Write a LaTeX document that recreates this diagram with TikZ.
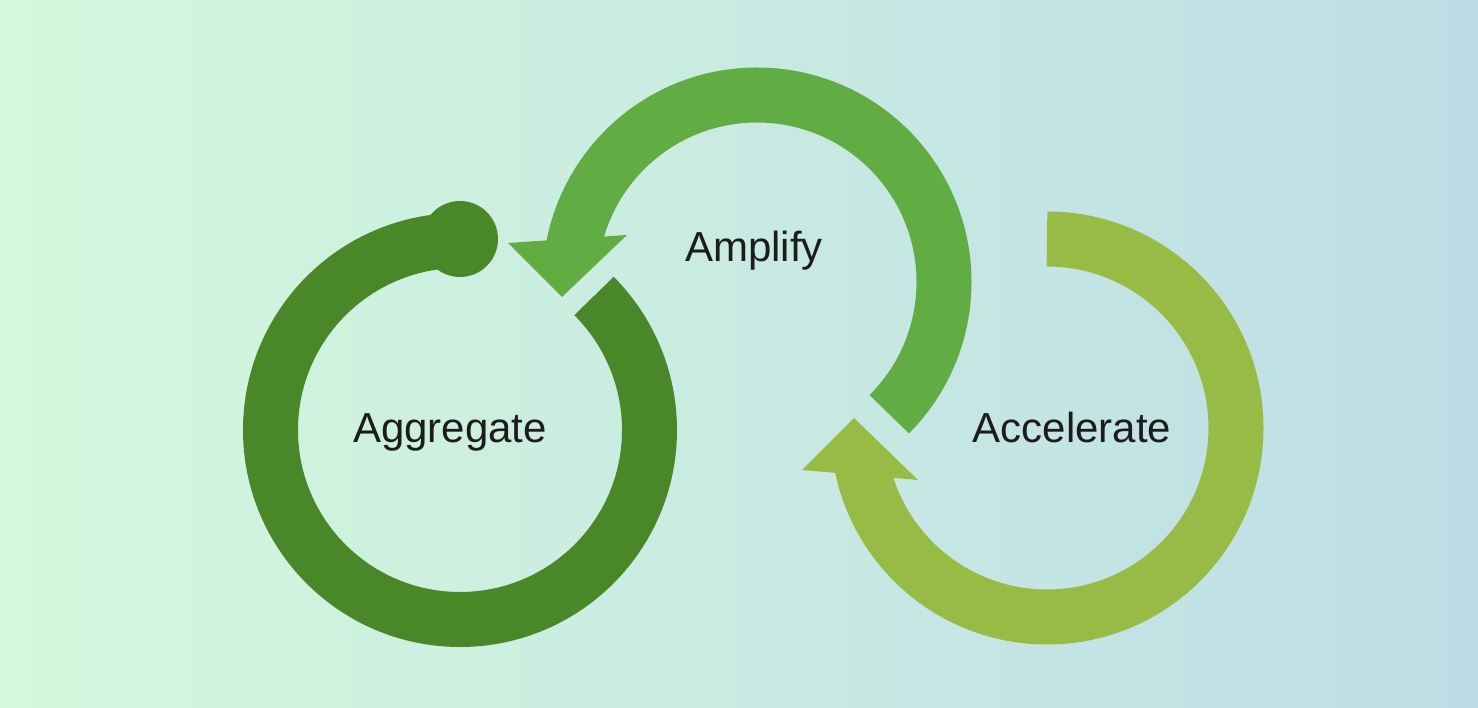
\documentclass[tikz,border=0pt]{standalone}
\usepackage{fontspec}
\setmainfont{Liberation Sans}
\usetikzlibrary{positioning}

\definecolor{bgleft}{HTML}{D4F8DD}
\definecolor{bgright}{HTML}{BDDDE6}
\definecolor{aggcol}{HTML}{4A8729}
\definecolor{ampcol}{HTML}{62AC44}
\definecolor{acccol}{HTML}{97BB45}
\definecolor{txtcol}{HTML}{1C1C1C}

\begin{document}
\begin{tikzpicture}[
    x=1pt, y=1pt,
    ring/.style={line width=55pt, line cap=butt},
    label/.style={font=\fontsize{42}{50}\selectfont, text=txtcol, anchor=base, inner sep=0pt}
]

    % Background
    \useasboundingbox (0,0) rectangle (1478,708);
    \shade[left color=bgleft, right color=bgright] (0,0) rectangle (1478,708);

    % Centres
    \coordinate (agg) at (460,278);
    \coordinate (amp) at (757,426);
    \coordinate (acc) at (1047,280);

    % Aggregate ring
    \draw[ring, draw=aggcol, shift={(agg)}] (90:189.5pt) arc[start angle=90, end angle=405, radius=189.5pt];
    \fill[aggcol] (460,469) circle[radius=38pt];

    % Amplify arc with head
    \draw[ring, draw=ampcol, shift={(amp)}] (-45:187pt) arc[start angle=-45, end angle=169, radius=187pt];
    \fill[ampcol, shift={(amp)}] (-249,39) -- (-195,-15) -- (-130,47) -- cycle;

    % Accelerate arc with head
    \draw[ring, draw=acccol, shift={(acc)}] (90:189pt) arc[start angle=90, end angle=-168, radius=189pt];
    \fill[acccol, shift={(acc)}] (-245,-42) -- (-193,10) -- (-129,-52) -- cycle;

    % Labels
    \node[label] (aggregate) at (450,265) {Aggregate};
    \node[label] (amplify) at (754,446) {Amplify};
    \node[label] (accelerate) at (1072,265) {Accelerate};
\end{tikzpicture}
\end{document}
